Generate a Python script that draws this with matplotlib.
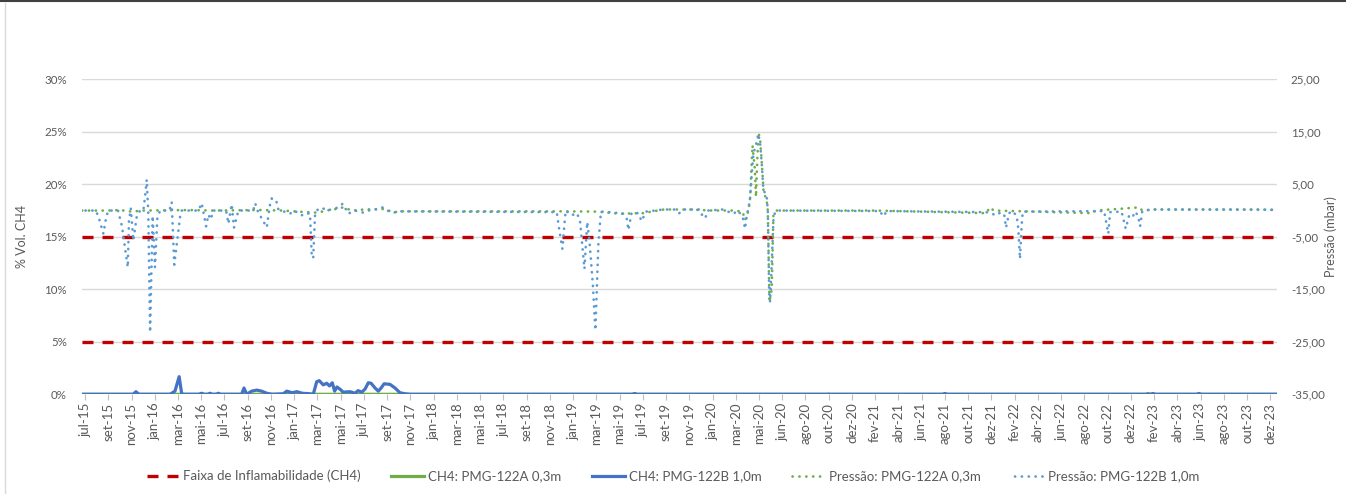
import numpy as np
import matplotlib
matplotlib.use("Agg")
import matplotlib.pyplot as plt
from matplotlib.lines import Line2D

plt.rcParams['font.family'] = ['Lato', 'DejaVu Sans']

# category labels along the x axis (one every tick)
tick_labels = ['jul-15', 'set-15', 'nov-15', 'jan-16', 'mar-16', 'mai-16', 'jul-16', 'set-16',
               'nov-16', 'jan-17', 'mar-17', 'mai-17', 'jul-17', 'set-17', 'nov-17', 'jan-18',
               'mar-18', 'mai-18', 'jul-18', 'set-18', 'nov-18', 'jan-19', 'mar-19', 'mai-19',
               'jul-19', 'set-19', 'nov-19', 'jan-20', 'mar-20', 'mai-20', 'jun-20', 'ago-20',
               'out-20', 'dez-20', 'fev-21', 'abr-21', 'jun-21', 'ago-21', 'out-21', 'dez-21',
               'fev-22', 'abr-22', 'jun-22', 'ago-22', 'out-22', 'dez-22', 'fev-23', 'abr-23',
               'jun-23', 'ago-23', 'out-23', 'dez-23']

# flammability band (% vol CH4)
flam_levels = [5, 15]

# CH4 PMG-122B 1,0m  (x in tick units, % vol), nan = no reading
ch4_b_x = [-0.13, 2.07, 2.19, 2.32, 3.66, 3.87, 4.05, 4.16, 4.26, 4.9, 5.02, 5.12, 5.29, 5.38, 5.47,
           5.64, 5.74, 5.83, 6.74, 6.84, 6.96, 7.17, 7.39, 7.6, 7.82, 8.05, 8.53, 8.68, 8.91, 9.12,
           9.34, 9.68, 9.82, 9.97, 10.08, 10.25, 10.4, 10.52, 10.64, 10.74, 10.84, 11.02, 11.1,
           11.4, 11.62, 11.75, 11.91, 12.05, 12.19, 12.31, 12.48, 12.62, 12.74, 12.87, 13.12,
           13.34, 13.55, 13.77, 13.98, 15.35, 15.42,
           15.49, 23.55, 23.65, 23.75, 27.74, 27.81,
           27.88, 29.97, 30.04,
           30.11, 31.95, 32.0,
           32.06, 36.9, 37.0, 37.1, 45.85, 45.95, 46.05, 47.83, 47.93, 48.03, 51.29]
ch4_b_y = [0, 0, 0.25, 0, 0, 0.3, 1.68, 0.05, 0, 0, 0.1, 0, 0, 0.1, 0,
           0, 0.1, 0, 0, 0.6, 0, 0.3, 0.4, 0.3, 0.1, 0, 0.05, 0.3, 0.15, 0.25,
           0.1, 0.05, 0, 1.2, 1.3, 0.9, 1.05, 0.8, 1.1, 0.3, 0.7, 0.4, 0.2,
           0.25, 0.1, 0.35, 0.2, 0.5, 1.1, 1.05, 0.6, 0.3, 0.6, 1.0, 0.95,
           0.6, 0.15, 0.05, 0, 0, np.nan,
           0, 0, 0.08, 0, 0, np.nan,
           0, 0, np.nan,
           0, 0, np.nan,
           0, 0, 0.08, 0, 0, 0.08, 0, 0, 0.08, 0, 0]

# CH4 PMG-122A 0,3m
ch4_a_x = [-0.13, 15.35, 15.42, 15.49, 27.74, 27.81, 27.88, 29.97, 30.04, 30.11, 31.95, 32.0,
           32.06, 45.64, 45.74, 45.84, 51.29]
ch4_a_y = [0, 0, np.nan, 0, 0, np.nan, 0, 0, np.nan, 0, 0, np.nan,
           0, 0, 0.08, 0, 0]

# Pressure PMG-122A 0,3m (mbar)
pa_x = [-0.13, 1.0, 1.5, 2.0, 2.5, 4.5, 5.5, 7.5, 8.5, 9.5, 10.0, 10.4, 10.8, 11.1, 11.5, 12.0,
        12.8, 13.3, 13.6, 20.5, 22.0, 23.0, 24.0, 24.9, 26.0, 27.0, 28.0, 28.3, 28.4, 28.55,
        28.62, 28.72, 28.82, 28.87, 28.93, 28.98, 29.05, 29.13, 29.2, 29.33, 29.38, 29.45,
        29.55, 29.62, 29.75, 34.0, 38.77, 38.94, 39.1, 43.32, 43.5, 45.35, 45.5, 46.0, 50.5, 51.29]
pa_y = [0, 0, 0.1, -0.2, 0, 0.1, 0, 0.1, 0, -0.3, -0.4, 0, 0.3, 0.6, 0, 0.2,
        0.3, -0.3, -0.15, -0.15, -0.2, -0.6, -0.5, 0.2, 0.2, 0, 0, -0.3, -1.8, 0,
        2.5, 12.4, 8.0, 2.6, 10.0, 14.8, 13.5, 8.5, 3.5, 2.0, 0, -17.4,
        -15.0, -1.0, 0, 0, -0.5, 0.6, 0, -0.5, 0, 0.6, 0, 0.2, 0.2, 0.1]

# Pressure PMG-122B 1,0m (mbar)
pb_x = [-0.13, 0.47, 0.6, 0.79, 0.88, 0.99,
        1.42, 1.59, 1.84, 1.89, 1.97, 2.08, 2.23, 2.37,
        2.51, 2.58, 2.655, 2.72, 2.8, 2.91, 3.01, 3.11, 3.23,
        3.63, 3.73, 3.84, 4.09, 4.16,
        4.88, 5.02, 5.21, 5.31, 5.41, 5.52,
        6.07, 6.17, 6.31, 6.41, 6.6,
        7.24, 7.32, 7.45, 7.82, 7.95, 8.03, 8.22, 8.32,
        8.82, 9.0, 9.33, 9.47, 9.68, 9.76, 9.82, 9.9, 9.97,
        10.11, 10.25, 10.4, 10.83, 11.09, 11.33, 11.6, 11.98, 12.2, 12.62, 12.81, 13.0, 13.27, 13.55,
        20.3, 20.4, 20.54, 20.62, 20.68,
        20.94, 21.17, 21.3, 21.49, 21.61, 21.7, 21.85, 21.96, 22.09, 22.2,
        22.6, 23.16, 23.31, 23.38, 23.52,
        23.8, 23.95, 24.14, 24.88, 25.4, 25.57, 25.75, 26.46, 26.6, 26.7, 26.8, 27.44, 27.9, 28.1, 28.3,
        28.4, 28.47, 28.54, 28.61, 28.69, 28.76, 28.9, 28.97, 29.05, 29.12, 29.19, 29.33, 29.38,
        29.44, 29.48, 29.55, 29.62, 29.69, 29.79,
        34.2, 34.35, 34.5,
        38.77, 39.23, 39.4, 39.56, 39.63, 39.76, 39.9,
        40.09, 40.16, 40.23, 40.3, 40.35,
        43.85, 43.89, 44.03, 44.11,
        44.6, 44.68, 44.78, 44.94, 45.1, 45.2,
        45.32, 45.4, 45.49,
        45.83, 51.29]
pb_y = [0, 0, -1.5, -4.4, -2.0, 0,
        0, -3.0, -10.8, -2.0, 0.4, -5.7, -1.0, 0,
        0, 2.5, 5.9, 0, -23.2, -1.0, -10.8, -1.5, 0,
        0, 1.6, -10.3, -1.2, 0,
        0, 1.4, -3.0, -0.8, -1.7, 0,
        0, -2.5, 1.2, -3.25, 0,
        0, 1.4, -0.3, -3.2, 0.9, 2.3, 2.0, 0.2,
        -0.6, 0, -0.9, -0.5, -0.6, -9.0, -9.0, -0.5, 0,
        0.5, 0.4, 0, 0.5, 1.3, -0.6, 0, -0.4, 0, 0.3, 0.6, 0, -0.4, -0.15,
        -0.3, -3.5, -7.3, -3.0, 0,
        -0.9, -0.5, -2.0, -11.1, -2.2, -5.5, -14.0, -22.8, -6.3, -0.2,
        -0.3, -0.6, -1.5, -3.7, -0.4,
        -0.5, -2.0, -0.2, 0.2, 0.2, -0.5, 0.2, 0.2, -1.4, -1.3, 0, 0.2, -0.6, 0, -1.3,
        -3.45, -1.2, 0.4, 1.95, 7.0, 10.8, 13.0, 14.6, 12.75, 8.9, 3.85, 2.9, 0,
        -15.8, -17.4, -10.0, -1.9, -0.3, 0,
        -0.1, -1.1, -0.1,
        -0.3, -0.9, -0.3, -1.0, -3.25, -0.5, -0.1,
        -1.0, -3.5, -9.2, -3.0, -0.2,
        -0.1, -1.0, -4.4, -0.3,
        -0.2, -1.6, -3.45, -0.7, -1.0, -0.2,
        -1.2, -3.0, -0.2,
        0.2, 0.15]

TXT = '#595959'
GRID = '#D9D9D9'
RED = '#C00000'
GREEN = '#70AD47'
BLUE = '#4472C4'
LBLUE = '#5B9BD5'

W, H = 1346, 494
fig = plt.figure(figsize=(W / 100, H / 100), dpi=100)
ax = fig.add_axes([82 / W, 1 - 394.3 / H, (1277 - 82) / W, 315 / H])
ax2 = ax.twinx()

ax.set_xlim(-0.13, 51.29)
ax.set_ylim(0, 30)
ax2.set_ylim(-35, 25)

ax.set_yticks(range(0, 31, 5))
ax.set_yticklabels([f'{v}%' for v in range(0, 31, 5)])
ax2.set_yticks(range(-35, 26, 10))
ax2.set_yticklabels([f'{v},00' for v in range(-35, 26, 10)])
ax.set_xticks(range(len(tick_labels)))
ax.set_xticklabels(tick_labels, rotation=90)

ax.grid(axis='y', color=GRID, lw=1)
ax.set_axisbelow(True)
for a in (ax, ax2):
    for s in a.spines.values():
        s.set_visible(False)
ax.tick_params(axis='y', length=0, pad=11, labelsize=8.3, labelcolor=TXT)
ax2.tick_params(axis='y', length=0, pad=10, labelsize=8.3, labelcolor=TXT)
ax.tick_params(axis='x', length=4, width=0.8, color='#BFBFBF', pad=2, labelsize=9.5, labelcolor=TXT)

red_style = dict(color=RED, lw=2.4, linestyle=(0, (3.3, 2.7)), dash_capstyle='butt')
for i, lev in enumerate(flam_levels):
    ax.axhline(lev, label='Faixa de Inflamabilidade (CH4)' if i == 0 else None, zorder=3, **red_style)

ax.plot(ch4_a_x, ch4_a_y, color=GREEN, lw=2.3, zorder=4, label='CH4: PMG-122A 0,3m')
ax.plot(ch4_b_x, ch4_b_y, color=BLUE, lw=2.3, zorder=5, label='CH4: PMG-122B 1,0m')

dot = dict(lw=1.9, linestyle=(0, (0.1, 2.5)), dash_capstyle='round')
ax2.plot(pa_x, pa_y, color=GREEN, label='Pressão: PMG-122A 0,3m', **dot)
ax2.plot(pb_x, pb_y, color=LBLUE, label='Pressão: PMG-122B 1,0m',
         **{**dot, 'linestyle': (1.3, (0.1, 2.5))})

ax.set_ylabel('% Vol. CH4', color=TXT, fontsize=9)
ax.yaxis.set_label_coords((28 - 82) / 1195, 0.5)
ax2.set_ylabel('Pressão (mbar)', color=TXT, fontsize=9)
ax2.yaxis.set_label_coords((1324 - 82) / 1195, 0.5)

h1, l1 = ax.get_legend_handles_labels()
h2, l2 = ax2.get_legend_handles_labels()
leg = fig.legend(h1 + h2, l1 + l2, loc='center', bbox_to_anchor=(0.5, 1 - 476 / H), ncol=5,
                 frameon=False, fontsize=9.5, handlelength=2.5, handletextpad=0.3, columnspacing=2.3)
for t in leg.get_texts():
    t.set_color(TXT)

# chart frame
fig.add_artist(Line2D([0, 1], [1 - 1.5 / H, 1 - 1.5 / H], color='#404040', lw=1.5))
fig.add_artist(Line2D([5 / W, 5 / W], [0, 1 - 3 / H], color=GRID, lw=1))

fig.savefig('out.png', dpi=100)
